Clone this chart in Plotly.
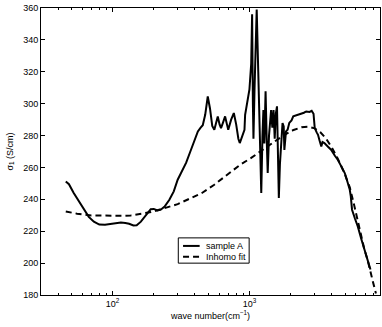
import plotly.graph_objects as go

wn_sample = [45.5, 48, 52, 57, 62, 67, 73, 80, 88, 97, 107, 115, 124, 132, 142, 150,
             161, 170, 180, 190, 200, 213, 225, 240, 260, 280, 299, 320, 345, 370, 395,
             420, 440, 456, 475, 496, 515, 535, 554, 570, 587, 605, 620, 640, 664, 685,
             700, 735, 769, 800, 830, 850, 880, 920, 930, 950, 980, 1000, 1030, 1046,
             1060, 1070, 1090, 1130, 1160, 1200, 1220, 1245, 1265, 1285, 1312, 1335,
             1360, 1390, 1440, 1470, 1500, 1530, 1560, 1590, 1615, 1640, 1670, 1710,
             1745, 1780, 1800, 1850, 1900, 1955, 2030, 2090, 2200, 2350, 2500, 2600,
             2750, 2850, 2940, 3000, 3100, 3170, 3250, 3350, 3420, 3530, 3750, 3950,
             4200, 4420, 4700, 4970, 5200, 5410, 5500, 5620, 5900, 6190, 6550, 6920,
             7300, 7660]
sigma_sample = [251.2, 249.5, 244, 238.5, 233.5, 229, 226, 224.2, 224, 224.6, 225.3, 225.5,
                225.2, 224.7, 223.6, 223.8, 226, 228.5, 231.4, 233.8, 234, 233, 233.5,
                235.5, 239.7, 245, 252.3, 257, 263, 270, 276, 282.6, 285, 286.5, 293,
                304.5, 297, 286, 283.6, 288, 292, 287, 284.7, 288, 292, 287, 283.6, 290,
                294.1, 287, 278, 275.3, 279, 283.6, 293, 297, 305, 309, 325, 356, 300,
                278, 310, 359, 320, 255, 244, 280, 296, 275, 307.7, 280, 256.5, 280, 296,
                285, 296, 278, 294, 298.3, 270, 240.8, 262, 277.4, 287.9, 285.7, 271,
                282.6, 283.6, 287.9, 289.5, 292, 292.5, 293.5, 294.3, 295.1, 294.8, 295.5,
                293.7, 284.7, 282, 280.5, 277, 273.2, 276, 275.3, 273, 271.1, 267.5,
                264.8, 260.5, 256.5, 251, 246, 242, 233.5, 228, 223, 215.5, 208.4, 202, 196]

# Inhomo fit
wn_fit = [45.5, 55, 70, 92, 120, 136, 160, 191, 230, 299, 374, 450, 550, 695, 850, 1030,
          1250, 1500, 1800, 2100, 2400, 2700, 3000, 3300, 3600, 4000, 4420, 4970, 5410,
          5800, 6190, 6550, 6920, 7300, 7660, 8000, 8400]
sigma_fit = [232.4, 231, 229.9, 229.7, 229.7, 229.9, 230.8, 232, 234, 237, 240.8, 244, 249,
             256, 261.5, 266, 271, 275.5, 280.5, 283.5, 285.2, 285.5, 284.5, 282, 278.5,
             272.5, 265.5, 256, 247.5, 237, 226, 217, 208.5, 202, 195.5, 188, 181]

x_major = [100, 1000]
x_major_text = ["10<sup>2</sup>", "10<sup>3</sup>"]
x_minor = [40, 50, 60, 70, 80, 90, 200, 300, 400, 500, 600, 700, 800, 900,
           2000, 3000, 4000, 5000, 6000, 7000, 8000, 9000]

DASH = "6px,4px"

fig = go.Figure()
fig.add_trace(go.Scatter(x=wn_sample, y=sigma_sample, mode="lines", name="sample A",
                         line=dict(color="black", width=2)))
fig.add_trace(go.Scatter(x=wn_fit, y=sigma_fit, mode="lines", name="Inhomo fit",
                         line=dict(color="black", width=2, dash=DASH)))

# legend drawn by hand (matlab-style compact box)
legend_items = [("sample A", "solid", 0.171), ("Inhomo fit", DASH, 0.133)]
fig.add_shape(type="rect", xref="paper", yref="paper", x0=0.405, x1=0.614, y0=0.111, y1=0.199,
              line=dict(color="black", width=1), fillcolor="white", layer="above")
for label, dash, yy in legend_items:
    fig.add_shape(type="line", xref="paper", yref="paper", x0=0.419, x1=0.468, y0=yy, y1=yy,
                  line=dict(color="black", width=2, dash=dash), layer="above")
    fig.add_annotation(text=label, xref="paper", yref="paper", x=0.48, y=yy,
                       xanchor="left", yanchor="middle", showarrow=False,
                       font=dict(size=9))

fig.update_layout(
    width=382, height=327,
    margin=dict(l=41, r=2, t=8, b=32),
    paper_bgcolor="white", plot_bgcolor="white",
    font=dict(family="Liberation Sans, Arial, sans-serif", size=9, color="black"),
    showlegend=False,
)
fig.update_xaxes(
    type="log", range=[1.477, 3.954], automargin=False,
    tickvals=x_major, ticktext=x_major_text,
    ticks="inside", ticklen=4, tickcolor="black",
    minor=dict(tickvals=x_minor, ticks="inside", ticklen=2, tickcolor="black"),
    showline=True, linecolor="black", linewidth=1, mirror="ticks",
    showgrid=False, zeroline=False,
    title=dict(text="wave number(cm<sup>−1</sup>)", font=dict(size=9), standoff=2),
)
fig.update_yaxes(
    range=[180, 360], dtick=20, automargin=False,
    ticks="inside", ticklen=4, tickcolor="black",
    showline=True, linecolor="black", linewidth=1, mirror="ticks",
    showgrid=False, zeroline=False,
    title=dict(text="σ<sub>1</sub> (S/cm)", font=dict(size=9), standoff=8),
)

fig.write_html("out.html", config={"displayModeBar": False},
               post_script="document.body.style.margin='0';")
